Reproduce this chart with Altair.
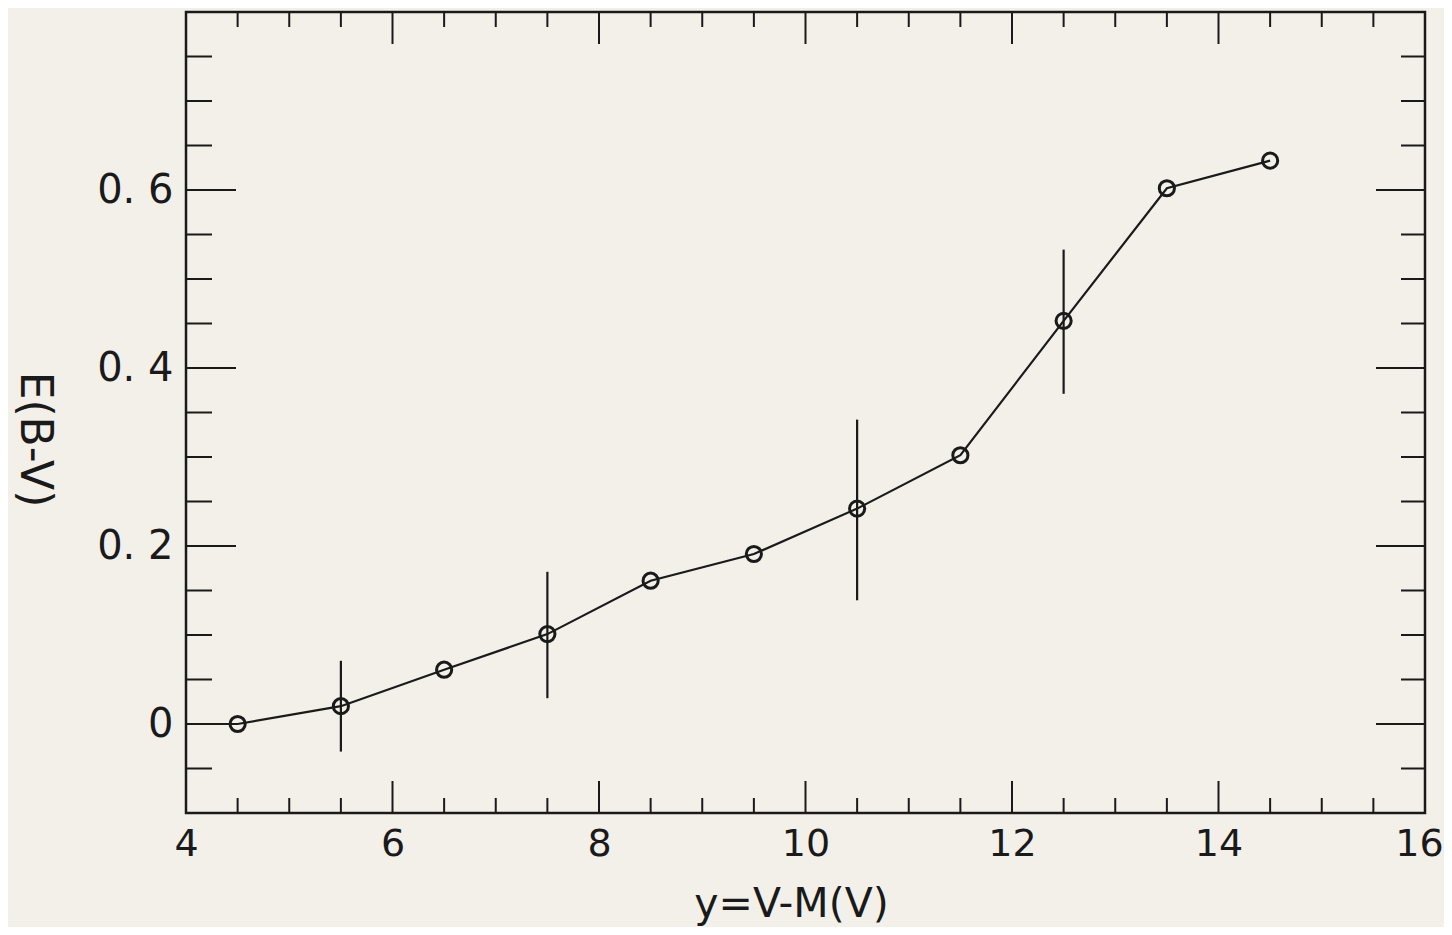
import altair as alt
import pandas as pd

# Data
x_pts = [4.5, 5.5, 6.5, 7.5, 8.5, 9.5, 10.5, 11.5, 12.5, 13.5, 14.5]
y_pts = [0.0, 0.02, 0.061, 0.101, 0.161, 0.191, 0.242, 0.302, 0.453, 0.602, 0.633]

# the line starts at the left frame
line_x = [4.0] + x_pts
line_y = [0.0] + y_pts

err_x = [5.5, 7.5, 10.5, 12.5]
err_lo = [-0.031, 0.029, 0.139, 0.371]
err_hi = [0.071, 0.171, 0.342, 0.533]

x_major = [4, 6, 8, 10, 12, 14, 16]
x_minor = [4.5, 5, 5.5, 6.5, 7, 7.5, 8.5, 9, 9.5, 10.5, 11, 11.5,
           12.5, 13, 13.5, 14.5, 15, 15.5]
y_major = [0, 0.2, 0.4, 0.6]
y_minor = [-0.05, 0.05, 0.1, 0.15, 0.25, 0.3, 0.35, 0.45, 0.5, 0.55,
           0.65, 0.7, 0.75]

W, H = 1239, 801
INK = "#1a1a1a"
FONT = "DejaVu Sans"

xs = alt.Scale(domain=[4, 16], nice=False, zero=False)
ys = alt.Scale(domain=[-0.1, 0.8], nice=False, zero=False)

pts = pd.DataFrame({"x": x_pts, "y": y_pts})
line = pd.DataFrame({"x": line_x, "y": line_y})
err = pd.DataFrame({"x": err_x, "lo": err_lo, "hi": err_hi})

xaxis = alt.Axis(values=x_major, format="d", ticks=False, tickSize=0, domain=False,
                 grid=False, labelFontSize=38, labelFont=FONT, labelColor=INK,
                 labelPadding=12,
                 labelOffset={"condition": {"test": "datum.value == 16", "value": -6},
                              "value": 0},
                 title="y=V-M(V)", titleFont=FONT,
                 titleFontSize=41, titleFontWeight="normal", titleColor=INK,
                 titleX=605, titleY=103, titleBaseline="alphabetic",
                 labelFlush=False)
yaxis = alt.Axis(values=y_major, ticks=False, tickSize=0, domain=False, grid=False,
                 labelExpr="datum.value == 0 ? '0' : replace(format(datum.value, '.1f'), '.', '. ')",
                 labelFontSize=40, labelFont=FONT, labelColor=INK, labelPadding=13,
                 title="E(B-V)", titleFont=FONT, titleFontSize=44,
                 titleFontWeight="normal", titleColor=INK, titleAngle=90,
                 titleX=-153, titleY=427, titleBaseline="middle",
                 titleAlign="center", labelFlush=False)

line_layer = alt.Chart(line).mark_line(color=INK, strokeWidth=2.2).encode(
    x=alt.X("x:Q", scale=xs, axis=xaxis),
    y=alt.Y("y:Q", scale=ys, axis=yaxis),
)

err_layer = alt.Chart(err).mark_rule(color=INK, strokeWidth=2.2).encode(
    x=alt.X("x:Q", scale=xs),
    y=alt.Y("lo:Q", scale=ys),
    y2="hi:Q",
)

pt_layer = alt.Chart(pts).mark_point(shape="circle", size=230, filled=False,
                                     color=INK, strokeWidth=3, opacity=1).encode(
    x=alt.X("x:Q", scale=xs),
    y=alt.Y("y:Q", scale=ys),
)

xmaj = pd.DataFrame({"v": x_major})
xmin = pd.DataFrame({"v": x_minor})
ymaj = pd.DataFrame({"v": y_major})
ymin = pd.DataFrame({"v": y_minor})

def xticks(df, length):
    bottom = alt.Chart(df).mark_rule(color=INK, strokeWidth=2).encode(
        x=alt.X("v:Q", scale=xs), y=alt.value(H), y2=alt.value(H - length))
    top = alt.Chart(df).mark_rule(color=INK, strokeWidth=2).encode(
        x=alt.X("v:Q", scale=xs), y=alt.value(0), y2=alt.value(length))
    return [bottom, top]

def yticks(df, left_len, right_len):
    left = alt.Chart(df).mark_rule(color=INK, strokeWidth=2).encode(
        y=alt.Y("v:Q", scale=ys), x=alt.value(0), x2=alt.value(left_len))
    right = alt.Chart(df).mark_rule(color=INK, strokeWidth=2).encode(
        y=alt.Y("v:Q", scale=ys), x=alt.value(W), x2=alt.value(W - right_len))
    return [left, right]

ticks = (xticks(xmaj, 32) + xticks(xmin, 15) +
         yticks(ymaj, 50, 49) + yticks(ymin, 26, 24))

chart = alt.layer(line_layer, err_layer, pt_layer, *ticks).properties(
    width=W, height=H,
    background="#f3f0ea",
    padding={"left": 178, "top": 4, "right": 19, "bottom": 114},
    autosize=alt.AutoSizeParams(type="none"),
).configure_view(stroke=INK, strokeWidth=2.5, fill="#f3f0ea")

chart.save("out.html", embed_options={"renderer": "svg", "actions": False})
